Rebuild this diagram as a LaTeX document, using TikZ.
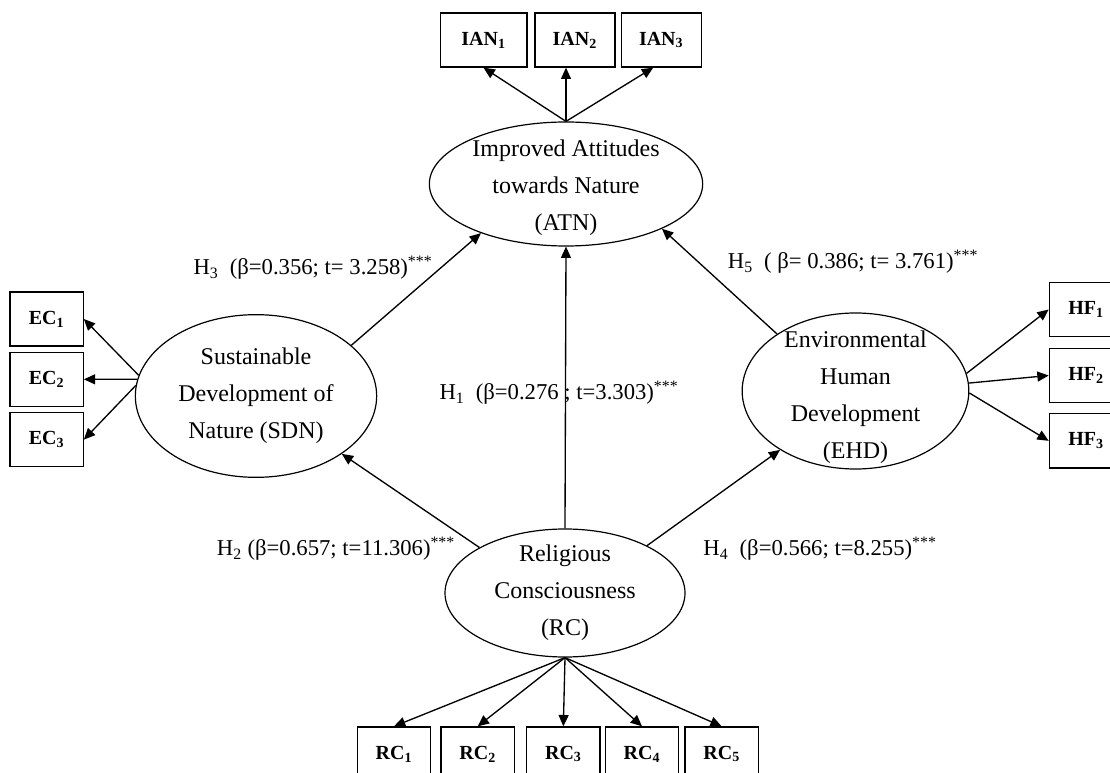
\documentclass[tikz,border=0pt]{standalone}
\usepackage{fontspec}
\setmainfont{Liberation Serif}
\usetikzlibrary{positioning}
\usetikzlibrary{shapes.geometric}
\usetikzlibrary{arrows.meta}

\tikzset{
  latent/.style={ellipse, draw, line width=0.9pt, inner sep=0pt},
  obs/.style={rectangle, draw, line width=1pt, minimum width=55pt, minimum height=40.5pt,
    inner sep=0pt, font=\fontsize{15}{17}\selectfont\bfseries},
  arr/.style={-{Triangle[length=8.5pt,width=7.5pt]}, line width=1pt},
  coef/.style={font=\fontsize{17}{20}\selectfont},
  every label/.style={align=center, font=\fontsize{18}{27.75}\selectfont},
}

\begin{document}
\begin{tikzpicture}[x=0.75pt, y=-0.75pt]
        \useasboundingbox (0,0) rectangle (1110,773);
        % Define nodes
        % constructs
        \node[latent, minimum width=205pt, minimum height=93pt,
          label={[yshift=-3pt]center:{Improved Attitudes\\towards Nature\\(ATN)}}](atn) at (566,184){}; %
        \node[latent, minimum width=181pt, minimum height=122pt,
          label=center:{Sustainable\\Development of\\Nature (SDN)}](sdn) at (256,396){}; %
        \node[latent, minimum width=170pt, minimum height=117pt,
          label={[yshift=-5pt]center:{Environmental\\Human\\Development\\(EHD)}}](ehd) at (855.5,391){}; %
        \node[latent, minimum width=180pt, minimum height=96pt,
          label=center:{Religious\\Consciousness\\(RC)}](rc) at (565,593){}; %

        % indicators
        \node[obs, minimum width=65pt](ian1) at (483.5,40){IAN\textsubscript{1}}; %
        \node[obs, minimum width=60pt, right=5pt of ian1](ian2){IAN\textsubscript{2}}; %
        \node[obs, minimum width=60pt, right=3.75pt of ian2](ian3){IAN\textsubscript{3}}; %
        \node[obs](ec1) at (46.5,319){EC\textsubscript{1}}; %
        \node[obs, below=3.75pt of ec1](ec2){EC\textsubscript{2}}; %
        \node[obs, below=3.75pt of ec2](ec3){EC\textsubscript{3}}; %
        \node[obs](hf1) at (1086,309.5){HF\textsubscript{1}}; %
        \node[obs, below=8pt of hf1](hf2){HF\textsubscript{2}}; %
        \node[obs, below=7.5pt of hf2](hf3){HF\textsubscript{3}}; %
        \node[obs](rc1) at (394,754){RC\textsubscript{1}}; %
        \node[obs, right=6.75pt of rc1](rc2){RC\textsubscript{2}}; %
        \node[obs, right=8.25pt of rc2](rc3){RC\textsubscript{3}}; %
        \node[obs, right=3pt of rc3](rc4){RC\textsubscript{4}}; %
        \node[obs, right=3.75pt of rc4](rc5){RC\textsubscript{5}}; %

        % path coefficients
        \node[coef](h3) at (313,268){H\textsubscript{3}~~(β=0.356; t=~3.258)\textsuperscript{***}};
        \node[coef](h1) at (559,393){H\textsubscript{1}~~(β=0.276 ; t=3.303)\textsuperscript{***}};
        \node[coef](h5) at (853,262){H\textsubscript{5}~~(~β=~0.386; t=~3.761)\textsuperscript{***}};
        \node[coef](h2) at (336,549){H\textsubscript{2} (β=0.657; t=11.306)\textsuperscript{***}};
        \node[coef](h4) at (820,549){H\textsubscript{4}~~(β=0.566; t=8.255)\textsuperscript{***}};

        % structural paths
        \draw[arr] (sdn.28) -- (atn.210);
        \draw[arr] (rc.north) -- (atn.south);
        \draw[arr] (ehd.144) -- (atn.335);
        \draw[arr] (rc.152) -- (sdn.326);
        \draw[arr] (rc.30) -- (ehd.218);

        % loadings
        \draw[arr] (atn.north) -- (ian1.south);
        \draw[arr] (atn.north) -- (atn.north |- ian2.south);
        \draw[arr] (atn.north) -- ([xshift=-6pt]ian3.south);
        \draw[arr] (sdn.170) -- (ec1.east);
        \draw[arr] (sdn.172) -- (ec2.east);
        \draw[arr] (sdn.175) -- (ec3.east);
        \draw[arr] (ehd.9) -- (hf1.west);
        \draw[arr] (ehd.4) -- (hf2.west);
        \draw[arr] (ehd.-1) -- (hf3.west);
        \foreach \i in {1,...,5}
          \draw[arr] (rc.south) -- (rc\i.north);
\end{tikzpicture}
\end{document}
